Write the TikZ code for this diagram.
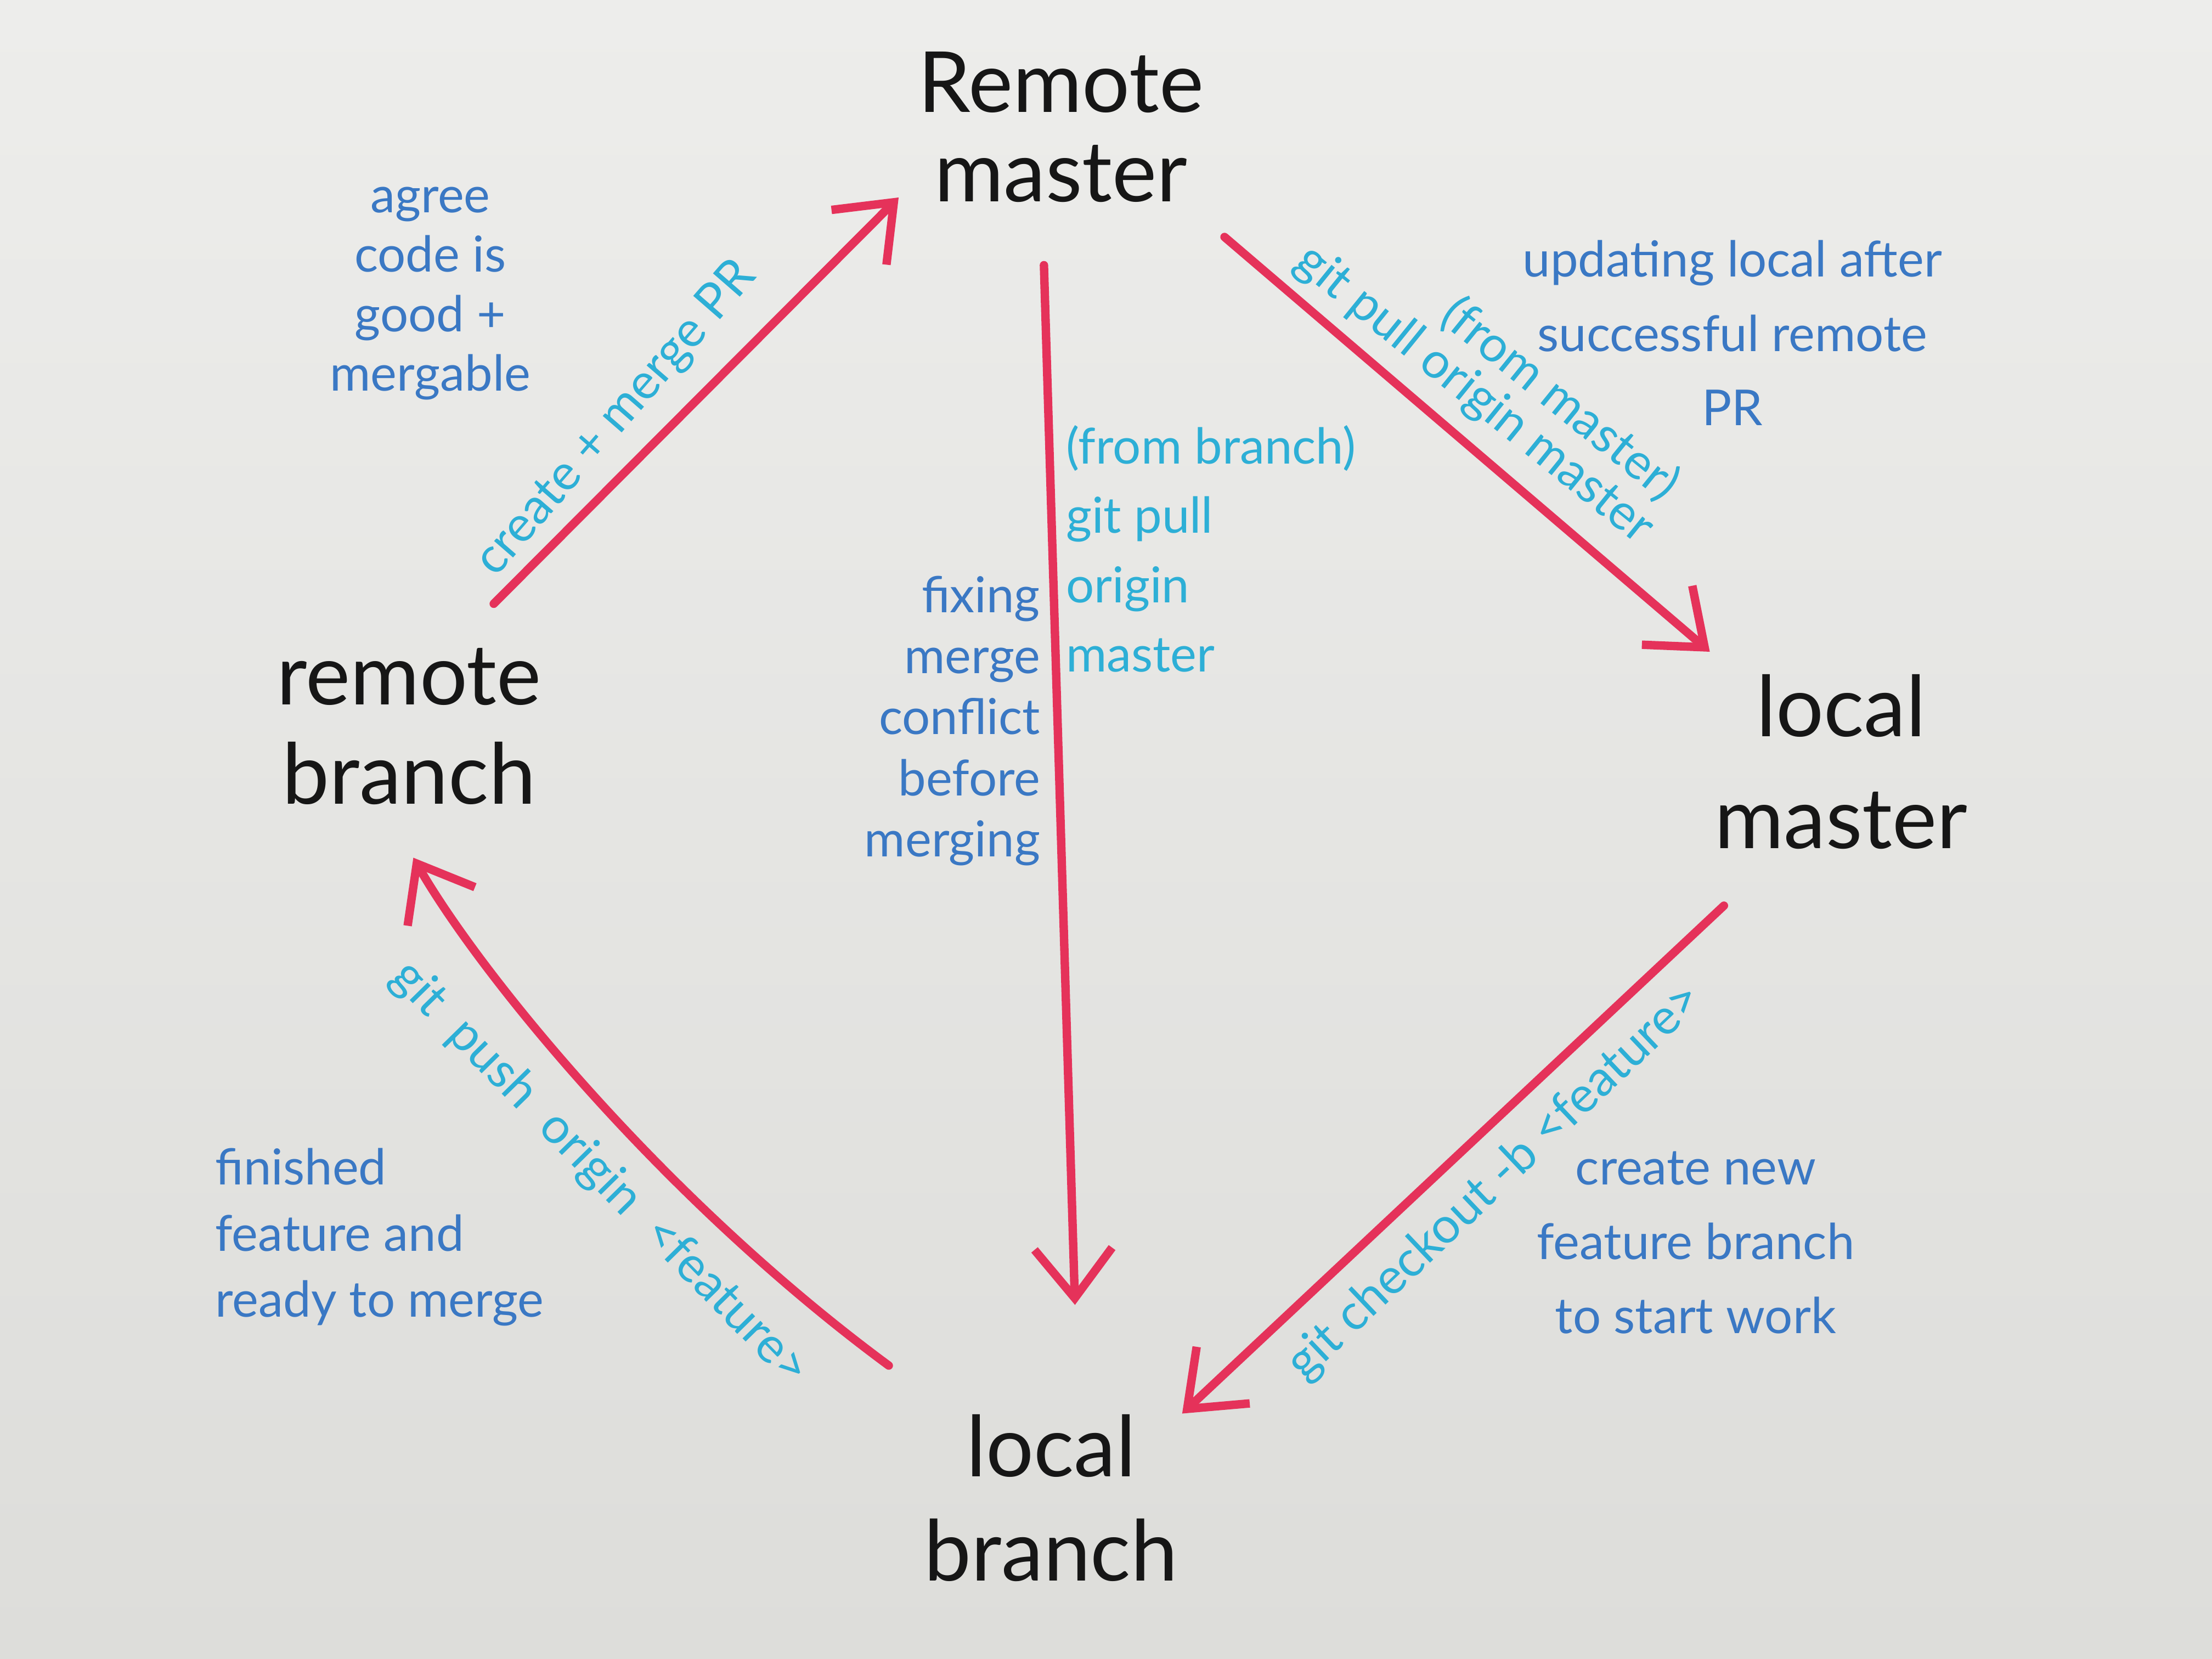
\documentclass[tikz,border=0pt]{standalone}
\usepackage{fontspec}
\setmainfont{Lato}
\usetikzlibrary{arrows.meta}
\definecolor{boardtop}{HTML}{EDEDEB}
\definecolor{boardbot}{HTML}{DDDDDA}
\definecolor{ink}{HTML}{161616}
\definecolor{noteblue}{HTML}{3A78C4}
\definecolor{cmdcyan}{HTML}{2DAFD6}
\definecolor{markerred}{HTML}{E5325A}
\begin{document}
\begin{tikzpicture}[
  big/.style={text=ink, inner sep=0pt, align=center},
  note/.style={text=noteblue, inner sep=0pt},
  cmd/.style={text=cmdcyan, inner sep=0pt, font=\fontsize{10}{12}\selectfont},
  marker/.style={draw=markerred, line width=1.7pt, line cap=round, line join=round,
    -{Straight Barb[length=3.5mm,width=5.5mm]}}
]
\shade[top color=boardtop, bottom color=boardbot] (0,0) rectangle (15.68,-11.76);
\useasboundingbox (0,0) rectangle (15.68,-11.76);

% main nodes
\node[big, font=\fontsize{17}{18}\selectfont] (rmaster) at (7.52,-0.90) {Remote\\master};
\node[big, font=\fontsize{17}{20}\selectfont] (rbranch) at (2.90,-5.15) {remote\\branch};
\node[big, font=\fontsize{17}{22.5}\selectfont] (lmaster) at (13.05,-5.40) {local\\master};
\node[big, font=\fontsize{17}{21}\selectfont] (lbranch) at (7.45,-10.62) {local\\branch};

% connectors
\draw[marker] ([shift={(0.60,0.87)}]rbranch.center) -- ([shift={(-1.15,-0.50)}]rmaster.center);
\draw[marker] ([shift={(1.16,-0.78)}]rmaster.center) -- ([shift={(-0.93,0.78)}]lmaster.center);
\draw[marker] ([shift={(-0.12,-0.98)}]rmaster.center) -- ([shift={(0.17,1.37)}]lbranch.center);
\draw[marker] ([shift={(-0.83,-1.02)}]lmaster.center) -- ([shift={(0.93,0.60)}]lbranch.center);
\draw[marker] ([shift={(-1.15,0.94)}]lbranch.center) .. controls (4.7,-8.5) and (3.4,-6.9) .. ([shift={(0.03,-0.93)}]rbranch.center);

% command labels
\node[cmd, rotate=49] (l1) at (4.37,-2.97) {create + merge PR};
\node[cmd, rotate=-39] (l2) at (10.45,-2.80) {git pull origin master};
\node[cmd, rotate=-39] (l2b) at (11.06,-2.83) {(from master)};
\node[cmd, align=left, anchor=west, font=\fontsize{10}{14}\selectfont] (l3) at (7.55,-3.89) {(from branch)\\git pull\\origin\\master};
\node[cmd, rotate=-45.5] (l4) at (4.25,-8.32) {git\ \ push\ \ origin\ \ <feature>};
\node[cmd, rotate=43.5] (l5) at (10.60,-8.38) {git checkout -b <feature>};

% notes
\node[note, align=center, font=\fontsize{10}{12}\selectfont] (n1) at (3.05,-2.08) {agree\\code is\\good +\\mergable};
\node[note, align=center, font=\fontsize{10}{15}\selectfont] (n2) at (12.28,-2.36) {updating local after\\successful remote\\PR};
\node[note, align=right, anchor=east, font=\fontsize{10}{12.3}\selectfont] (n3) at (7.38,-5.11) {fixing\\merge\\conflict\\before\\merging};
\node[note, align=left, anchor=west, font=\fontsize{10}{13.3}\selectfont] (n4) at (1.52,-8.77) {finished\\feature and\\ready to merge};
\node[note, align=center, font=\fontsize{10}{15}\selectfont] (n5) at (12.02,-8.81) {create new\\feature branch\\to start work};
\end{tikzpicture}
\end{document}
